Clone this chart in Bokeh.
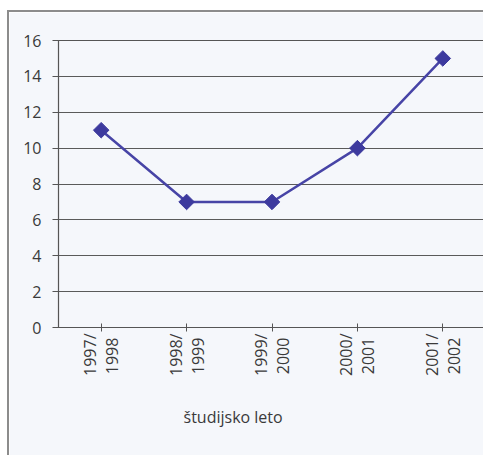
import math
from bokeh.plotting import figure
from bokeh.models import FactorRange, Range1d, SingleIntervalTicker, ColumnDataSource, Title
from bokeh.embed import file_html
from bokeh.resources import INLINE

categories = ["1997/\n1998\u00a0", "1998/\n1999\u00a0", "1999/\n2000\u00a0", "2000/\n2001\u00a0", "2001/\n2002\u00a0"]
values = [11, 7, 7, 10, 15]
y_ticks = [0, 2, 4, 6, 8, 10, 12, 14, 16]
x_title = "študijsko leto"

FONT = "Open Sans"
BG = "#f5f7fb"
LINE = "#4744a6"
TXT = "#3a3a3a"

src = ColumnDataSource(dict(x=categories, y=values))

p = figure(
    width=476, height=445,
    x_range=FactorRange(*categories, range_padding=0),
    y_range=Range1d(0, 16),
    output_backend="svg", toolbar_location=None,
    min_border_left=49, min_border_top=28, min_border_right=0, min_border_bottom=130,
    background_fill_color=BG, border_fill_color=BG,
    styles={"margin-left": "7px", "margin-top": "10px",
            "border-left": "2px solid #8c8c8c", "border-top": "2px solid #8c8c8c"},
)

p.line("x", "y", source=src, line_color=LINE, line_width=2.5)
p.scatter("x", "y", source=src, marker="square", angle=math.pi / 4, size=11,
          fill_color="#3d3a9e", line_color="#3d3a9e")

p.outline_line_color = "#555555"
p.outline_line_width = 1.2

p.xgrid.grid_line_color = None
p.ygrid.grid_line_color = "#5a5a5a"
p.ygrid.grid_line_width = 1.1
p.ygrid.ticker = SingleIntervalTicker(interval=2)

p.yaxis.ticker = y_ticks
p.yaxis.axis_line_color = "#555555"
p.yaxis.major_tick_line_color = "#555555"
p.yaxis.major_tick_in = 0
p.yaxis.major_tick_out = 6
p.yaxis.minor_tick_line_color = None
p.yaxis.major_label_standoff = 11
p.yaxis.major_label_text_font = FONT
p.yaxis.major_label_text_font_size = "16px"
p.yaxis.major_label_text_color = TXT

p.xaxis.axis_line_color = "#555555"
p.xaxis.major_tick_line_color = "#555555"
p.xaxis.major_tick_in = 4
p.xaxis.major_tick_out = 4
p.xaxis.major_label_orientation = math.pi / 2
p.xaxis.major_label_standoff = 2
p.xaxis.major_label_text_font = FONT
p.xaxis.major_label_text_font_size = "16px"
p.xaxis.major_label_text_color = TXT
p.xaxis.major_label_text_line_height = 1.0

title = Title(text=x_title, align="left", offset=125, standoff=50,
              text_font=FONT, text_font_size="16px", text_font_style="normal",
              text_color=TXT)
p.add_layout(title, "below")

open("out.html", "w").write(file_html(p, INLINE))
